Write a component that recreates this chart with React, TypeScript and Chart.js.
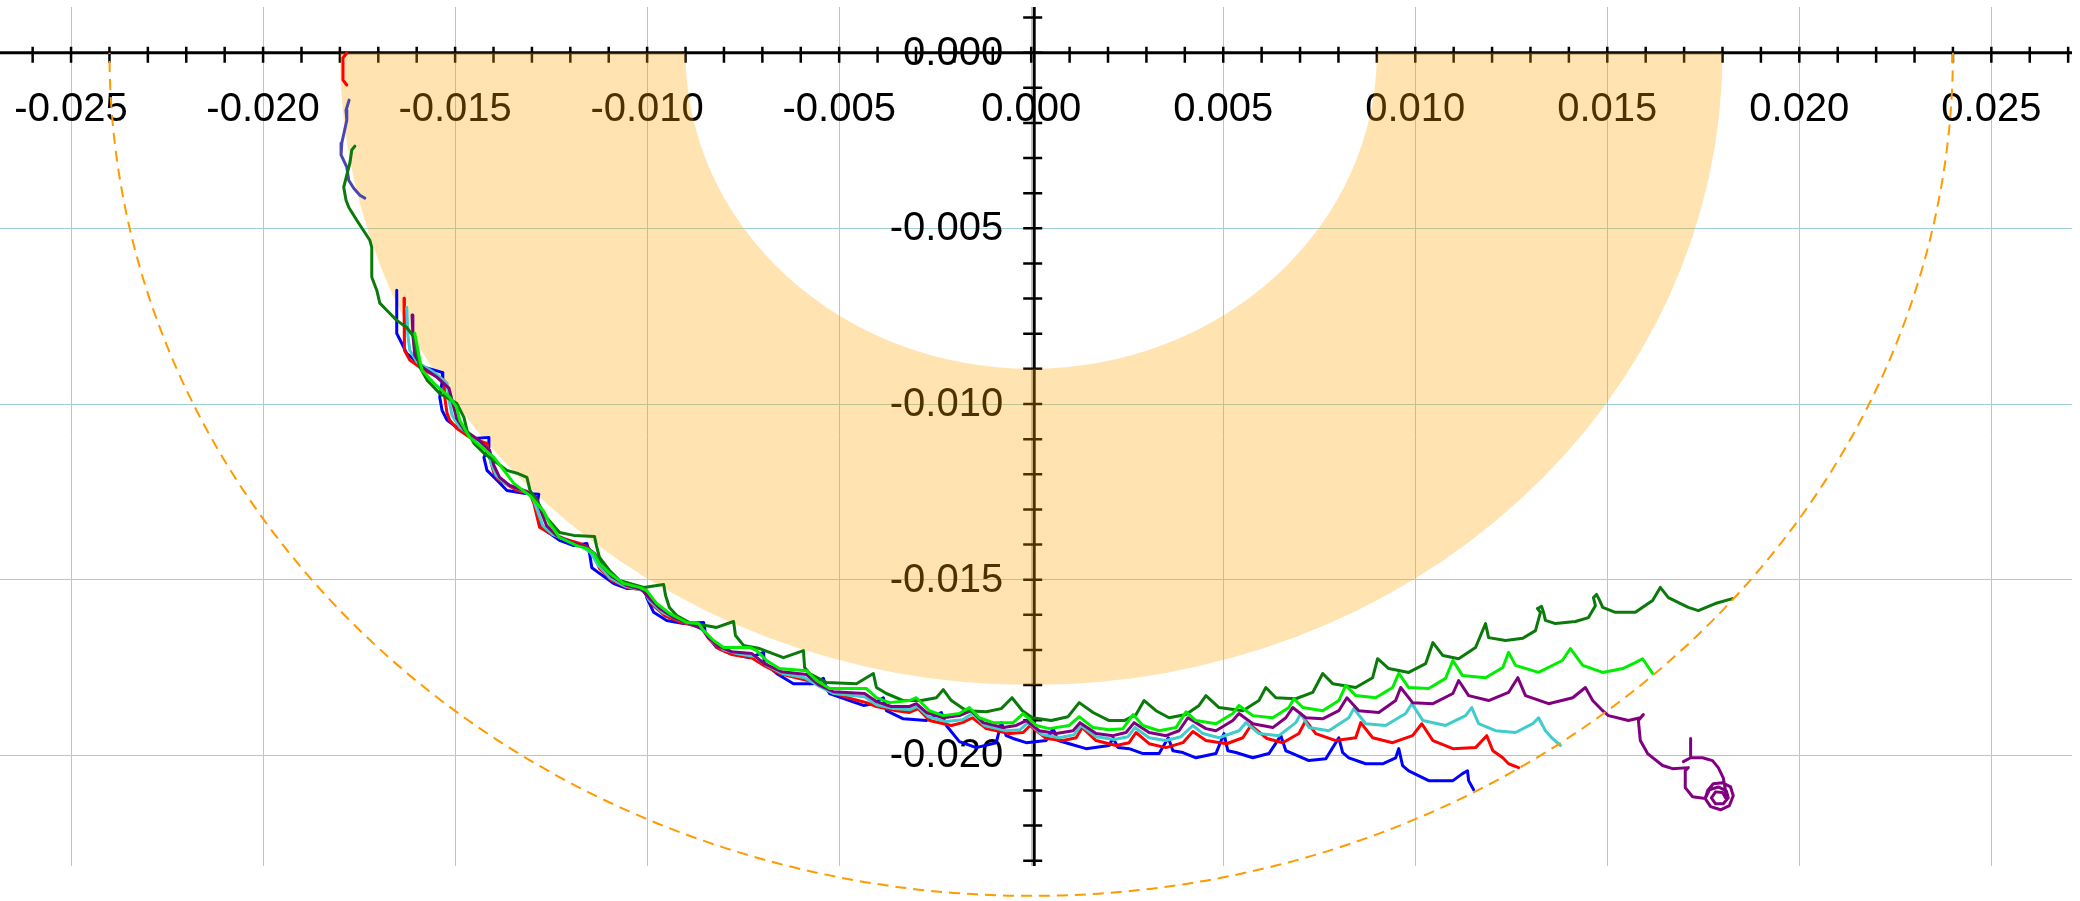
import React, { useEffect, useRef } from 'react';
import { Chart, registerables } from 'chart.js';

Chart.register(...registerables);

// ---- axis ranges & ticks ----
const X_MIN = -0.02685;
const X_MAX = 0.0271;
const Y_MIN = -0.02315;
const Y_MAX = 0.0013;
const xGridValues = [-0.025, -0.02, -0.015, -0.01, -0.005, 0, 0.005, 0.01, 0.015, 0.02, 0.025];
const yGridValues = [0, -0.005, -0.01, -0.015, -0.02];
const xTickLabels = ['-0.025', '-0.020', '-0.015', '-0.010', '-0.005', '0.000', '0.005', '0.010', '0.015', '0.020', '0.025'];
const yTickLabels = ['0.000', '-0.005', '-0.010', '-0.015', '-0.020'];
const MINOR_STEP = 0.001;

// ---- reference shapes (radii in data units) ----
const BAND_INNER = 0.009;
const BAND_OUTER = 0.018;
const LIMIT_RADIUS = 0.024;

// ---- trajectories: [x, y] in thousandths (x1e-3) ----
const darkGreenTrack: [number, number][] = [
  [-17.61, -2.66], [-17.69, -2.77], [-17.74, -3.14], [-17.82, -3.48], [-17.90, -3.83], [-17.84, -4.20], [-17.77, -4.40],
  [-17.56, -4.77], [-17.22, -5.34], [-17.17, -5.54], [-17.17, -6.39], [-17.04, -6.76], [-16.96, -7.13], [-16.78, -7.33],
  [-16.52, -7.62], [-16.26, -7.82], [-16.07, -8.10], [-15.92, -8.95], [-15.73, -9.32], [-15.40, -9.70], [-14.96, -9.98],
  [-14.77, -10.38], [-14.69, -10.75], [-14.51, -11.12], [-14.25, -11.40], [-13.65, -11.89], [-13.39, -11.97], [-13.13, -12.09],
  [-13.05, -12.46], [-12.80, -12.89], [-12.62, -13.23], [-12.28, -13.66], [-11.91, -13.74], [-11.37, -13.77], [-11.32, -14.03],
  [-11.24, -14.37], [-10.98, -14.74], [-10.72, -15.02], [-10.09, -15.22], [-9.57, -15.14], [-9.52, -15.45], [-9.42, -15.79],
  [-9.23, -16.02], [-8.90, -16.22], [-8.19, -16.36], [-7.75, -16.19], [-7.70, -16.59], [-7.49, -16.87], [-7.07, -16.96],
  [-6.45, -17.22], [-5.93, -17.02], [-5.90, -17.50], [-5.77, -17.67], [-5.33, -17.93], [-4.55, -17.96], [-4.11, -17.67],
  [-4.03, -18.07], [-3.77, -18.24], [-3.33, -18.44], [-2.86, -18.44], [-2.47, -18.36], [-2.29, -18.13], [-2.08, -18.44],
  [-1.69, -18.73], [-1.17, -18.76], [-0.78, -18.67], [-0.50, -18.36], [-0.23, -18.73], [0.03, -18.93], [0.52, -19.01],
  [0.96, -18.90], [1.25, -18.50], [1.61, -18.78], [2.03, -19.01], [2.42, -19.01], [2.73, -18.84], [2.94, -18.44],
  [3.25, -18.73], [3.59, -18.93], [4.03, -18.84], [4.37, -18.58], [4.55, -18.30], [4.89, -18.64], [5.51, -18.73],
  [5.93, -18.44], [6.11, -18.07], [6.37, -18.36], [6.89, -18.39], [7.33, -18.21], [7.59, -17.67], [7.85, -17.96],
  [8.45, -18.07], [8.89, -17.79], [9.02, -17.25], [9.31, -17.53], [9.83, -17.64], [10.27, -17.39], [10.46, -16.79],
  [10.72, -17.16], [11.13, -17.25], [11.57, -16.93], [11.83, -16.25], [11.91, -16.65], [12.35, -16.73], [12.80, -16.67],
  [13.13, -16.45], [13.26, -15.93], [13.18, -15.82], [13.29, -15.76], [13.34, -15.93], [13.39, -16.16], [13.65, -16.25],
  [14.17, -16.19], [14.51, -16.08], [14.69, -15.74], [14.64, -15.51], [14.72, -15.42], [14.80, -15.59], [14.88, -15.79],
  [15.21, -15.93], [15.73, -15.93], [16.18, -15.59], [16.38, -15.22], [16.59, -15.51], [17.11, -15.79], [17.37, -15.88],
  [17.81, -15.68], [18.26, -15.54],
];

const limeTrack: [number, number][] = [
  [-16.05, -7.99], [-15.99, -8.33], [-15.92, -8.75], [-15.86, -9.04], [-15.55, -9.41], [-15.14, -9.81], [-14.96, -10.09],
  [-14.88, -10.46], [-14.62, -10.95], [-14.31, -11.23], [-13.99, -11.52], [-13.73, -11.89], [-13.47, -12.26], [-13.06, -12.60],
  [-12.69, -13.06], [-12.54, -13.40], [-12.28, -13.80], [-11.83, -14.03], [-11.57, -14.11], [-11.39, -14.25], [-11.24, -14.54],
  [-10.98, -14.82], [-10.61, -15.11], [-10.20, -15.22], [-10.01, -15.31], [-9.75, -15.68], [-9.42, -15.96], [-8.97, -16.22],
  [-8.66, -16.25], [-8.53, -16.45], [-8.27, -16.73], [-8.01, -16.93], [-7.33, -16.93], [-7.15, -17.02], [-6.89, -17.30],
  [-6.56, -17.53], [-5.85, -17.59], [-5.59, -17.87], [-5.25, -18.10], [-4.29, -18.10], [-4.03, -18.36], [-3.69, -18.50],
  [-3.17, -18.44], [-2.99, -18.36], [-2.65, -18.73], [-2.29, -18.87], [-1.87, -18.81], [-1.61, -18.64], [-1.35, -18.93],
  [-0.99, -19.07], [-0.47, -19.07], [-0.21, -18.81], [0.13, -19.15], [0.47, -19.24], [0.99, -19.15], [1.25, -18.90],
  [1.61, -19.21], [2.03, -19.27], [2.39, -19.24], [2.65, -18.84], [2.91, -19.15], [3.33, -19.30], [3.77, -19.21],
  [4.03, -18.76], [4.29, -19.01], [4.81, -19.10], [5.25, -18.81], [5.41, -18.58], [5.77, -18.87], [6.29, -18.93],
  [6.71, -18.64], [6.84, -18.39], [7.07, -18.64], [7.59, -18.73], [8.01, -18.44], [8.19, -18.01], [8.45, -18.30],
  [8.97, -18.36], [9.41, -18.07], [9.57, -17.67], [9.83, -18.07], [10.35, -18.10], [10.79, -17.81], [10.98, -17.30],
  [11.23, -17.73], [11.83, -17.79], [12.28, -17.50], [12.43, -17.07], [12.61, -17.44], [13.21, -17.64], [13.83, -17.30],
  [14.04, -16.96], [14.36, -17.44], [14.88, -17.64], [15.40, -17.53], [15.73, -17.36], [15.92, -17.25], [16.18, -17.67],
];

const purpleTrack: [number, number][] = [
  [-16.12, -7.47], [-16.10, -8.04], [-16.05, -8.61], [-15.86, -8.95], [-15.47, -9.24], [-15.16, -9.55], [-15.06, -9.98],
  [-14.96, -10.41], [-14.75, -10.75], [-14.38, -11.03], [-14.10, -11.32], [-13.99, -11.75], [-13.84, -12.09], [-13.58, -12.32],
  [-13.13, -12.49], [-12.88, -12.66], [-12.75, -13.09], [-12.62, -13.46], [-12.36, -13.74], [-11.96, -13.94], [-11.57, -14.08],
  [-11.37, -14.25], [-11.18, -14.60], [-10.92, -14.91], [-10.53, -15.17], [-10.14, -15.28], [-9.96, -15.51], [-9.67, -15.82],
  [-9.31, -16.08], [-8.84, -16.28], [-8.58, -16.39], [-8.40, -16.65], [-8.14, -16.90], [-7.80, -17.05], [-7.28, -17.10],
  [-6.95, -17.39], [-6.50, -17.62], [-5.85, -17.70], [-5.54, -17.99], [-5.15, -18.19], [-4.34, -18.24], [-4.03, -18.47],
  [-3.64, -18.61], [-3.17, -18.61], [-2.99, -18.53], [-2.73, -18.78], [-2.29, -18.93], [-1.87, -18.87], [-1.56, -18.73],
  [-1.25, -19.07], [-0.73, -19.21], [-0.39, -19.15], [-0.13, -19.01], [0.21, -19.30], [0.65, -19.38], [1.09, -19.30],
  [1.27, -19.07], [1.69, -19.38], [2.13, -19.44], [2.47, -19.35], [2.68, -19.07], [3.07, -19.35], [3.51, -19.44],
  [3.85, -19.30], [4.08, -18.93], [4.55, -19.24], [4.81, -19.30], [5.25, -19.01], [5.41, -18.81], [5.77, -19.10],
  [6.29, -19.21], [6.63, -18.93], [6.81, -18.64], [7.15, -18.93], [7.59, -18.96], [8.01, -18.73], [8.22, -18.36],
  [8.53, -18.73], [9.05, -18.78], [9.49, -18.44], [9.62, -18.07], [9.93, -18.50], [10.46, -18.53], [10.98, -18.24],
  [11.13, -17.87], [11.39, -18.30], [11.91, -18.44], [12.43, -18.21], [12.67, -17.79], [12.87, -18.30], [13.47, -18.53],
  [14.10, -18.36], [14.43, -18.07], [14.62, -18.44], [14.88, -18.73], [15.03, -18.87], [15.55, -19.01], [15.86, -18.93],
  [15.94, -18.84], [15.81, -19.01], [15.86, -19.58], [16.05, -19.95], [16.44, -20.29], [16.70, -20.38], [17.11, -20.35],
  [17.03, -20.44], [17.03, -20.92], [17.22, -21.18], [17.55, -21.23], [17.61, -21.01], [17.76, -20.81], [18.00, -20.78],
  [18.21, -20.90], [18.28, -21.15], [18.18, -21.43], [17.95, -21.55], [17.69, -21.46], [17.55, -21.23], [17.66, -20.98],
  [17.89, -20.90], [18.10, -21.01], [18.15, -21.21], [18.02, -21.38], [17.82, -21.38], [17.71, -21.21], [17.82, -21.04],
  [18.00, -21.06], [18.08, -21.21], [18.08, -21.01], [18.02, -20.64], [17.89, -20.35], [17.74, -20.15], [17.48, -20.07],
  [17.17, -20.07], [16.98, -20.18], [17.17, -20.07], [17.17, -19.52],
];

const cyanTrack: [number, number][] = [
  [-16.26, -7.25], [-16.23, -8.04], [-16.18, -8.47], [-15.99, -8.81], [-15.55, -9.10], [-15.21, -9.41], [-15.16, -9.89],
  [-15.08, -10.32], [-14.88, -10.66], [-14.51, -10.95], [-14.17, -11.23], [-14.07, -11.66], [-13.93, -12.03], [-13.70, -12.26],
  [-13.26, -12.46], [-13.00, -12.60], [-12.88, -12.97], [-12.72, -13.46], [-12.46, -13.71], [-12.10, -13.88], [-11.70, -14.06],
  [-11.47, -14.23], [-11.29, -14.57], [-10.98, -14.94], [-10.56, -15.19], [-10.09, -15.31], [-9.94, -15.59], [-9.60, -15.93],
  [-9.21, -16.13], [-8.71, -16.33], [-8.50, -16.47], [-8.30, -16.76], [-8.01, -16.99], [-7.67, -17.10], [-7.20, -17.19],
  [-6.87, -17.45], [-6.48, -17.67], [-5.90, -17.79], [-5.51, -18.04], [-5.15, -18.24], [-4.34, -18.33], [-4.03, -18.56],
  [-3.59, -18.67], [-3.15, -18.70], [-2.96, -18.61], [-2.68, -18.90], [-2.21, -19.04], [-1.79, -18.99], [-1.53, -18.81],
  [-1.22, -19.15], [-0.65, -19.30], [-0.29, -19.27], [-0.08, -19.07], [0.29, -19.41], [0.73, -19.50], [1.12, -19.41],
  [1.30, -19.15], [1.69, -19.47], [2.16, -19.55], [2.52, -19.47], [2.70, -19.21], [3.07, -19.50], [3.51, -19.58],
  [3.90, -19.47], [4.21, -19.15], [4.47, -19.38], [4.89, -19.50], [5.41, -19.30], [5.59, -19.07], [5.93, -19.38],
  [6.45, -19.44], [6.89, -19.07], [7.02, -18.81], [7.23, -19.21], [7.75, -19.30], [8.27, -18.93], [8.40, -18.67],
  [8.71, -19.10], [9.23, -19.15], [9.75, -18.81], [9.91, -18.53], [10.20, -19.01], [10.79, -19.15], [11.31, -18.87],
  [11.47, -18.64], [11.65, -19.10], [12.09, -19.30], [12.61, -19.35], [13.06, -19.10], [13.21, -18.93], [13.39, -19.30],
  [13.57, -19.52], [13.78, -19.72],
];

const redStartTrack: [number, number][] = [
  [-17.82, -0.01], [-17.92, -0.15], [-17.92, -0.78], [-17.82, -0.92],
];

const redTrack: [number, number][] = [
  [-16.33, -6.99], [-16.33, -7.62], [-16.31, -8.47], [-16.18, -8.75], [-15.81, -9.04], [-15.29, -9.32], [-15.27, -9.81],
  [-15.21, -10.26], [-15.14, -10.46], [-14.96, -10.69], [-14.62, -10.95], [-14.17, -11.12], [-14.10, -11.52], [-13.99, -11.97],
  [-13.84, -12.17], [-13.39, -12.46], [-13.05, -12.54], [-12.95, -12.83], [-12.80, -13.51], [-12.54, -13.68], [-12.17, -13.83],
  [-11.76, -13.97], [-11.57, -14.06], [-11.39, -14.31], [-11.24, -14.68], [-10.92, -15.02], [-10.53, -15.22], [-10.07, -15.31],
  [-9.89, -15.68], [-9.55, -16.02], [-9.10, -16.22], [-8.58, -16.36], [-8.40, -16.67], [-8.14, -16.96], [-7.80, -17.13],
  [-7.28, -17.22], [-6.95, -17.45], [-6.56, -17.67], [-5.93, -17.84], [-5.46, -17.96], [-5.20, -18.21], [-4.68, -18.39],
  [-4.29, -18.50], [-4.03, -18.61], [-3.51, -18.73], [-3.17, -18.78], [-2.94, -18.67], [-2.65, -19.01], [-2.08, -19.15],
  [-1.79, -19.07], [-1.53, -18.93], [-1.17, -19.24], [-0.57, -19.38], [-0.21, -19.35], [-0.03, -19.15], [0.39, -19.52],
  [0.83, -19.58], [1.17, -19.50], [1.33, -19.21], [1.69, -19.58], [2.21, -19.72], [2.55, -19.64], [2.73, -19.35],
  [3.07, -19.67], [3.51, -19.78], [3.95, -19.64], [4.21, -19.32], [4.55, -19.58], [5.09, -19.67], [5.51, -19.50],
  [5.72, -19.15], [6.14, -19.52], [6.55, -19.64], [6.97, -19.38], [7.15, -19.01], [7.41, -19.38], [7.93, -19.58],
  [8.45, -19.50], [8.58, -19.07], [8.89, -19.50], [9.41, -19.64], [9.93, -19.44], [10.17, -19.10], [10.46, -19.58],
  [10.98, -19.81], [11.57, -19.78], [11.86, -19.44], [12.02, -19.87], [12.28, -20.07], [12.43, -20.24], [12.69, -20.35],
];

const navyStartTrack: [number, number][] = [
  [-17.76, -1.35], [-17.84, -1.64], [-17.82, -1.92], [-17.95, -2.57], [-17.97, -2.91], [-17.82, -3.26], [-17.77, -3.63],
  [-17.64, -3.86], [-17.48, -4.06], [-17.35, -4.14],
];

const blueTrack: [number, number][] = [
  [-16.52, -6.76], [-16.52, -7.42], [-16.52, -7.99], [-16.39, -8.27], [-16.26, -8.56], [-15.99, -8.81], [-15.81, -8.95],
  [-15.34, -9.10], [-15.32, -9.24], [-15.40, -9.81], [-15.34, -10.18], [-15.21, -10.46], [-14.96, -10.66], [-14.51, -10.98],
  [-14.12, -10.95], [-14.12, -11.23], [-14.25, -11.52], [-14.17, -11.89], [-13.91, -12.17], [-13.65, -12.46], [-13.21, -12.54],
  [-12.82, -12.57], [-12.88, -12.94], [-12.75, -13.51], [-12.54, -13.68], [-12.28, -13.88], [-11.91, -14.03], [-11.57, -13.97],
  [-11.50, -14.25], [-11.44, -14.66], [-11.24, -14.82], [-10.87, -15.11], [-10.53, -15.25], [-10.07, -15.22], [-10.01, -15.51],
  [-9.83, -15.93], [-9.49, -16.16], [-9.05, -16.25], [-8.53, -16.22], [-8.48, -16.53], [-8.19, -16.93], [-7.85, -17.10],
  [-7.33, -17.22], [-6.97, -17.07], [-6.95, -17.36], [-6.63, -17.67], [-6.19, -17.96], [-5.67, -17.96], [-5.41, -17.81],
  [-5.33, -18.10], [-5.25, -18.24], [-4.73, -18.44], [-4.37, -18.58], [-4.11, -18.53], [-3.85, -18.36], [-3.77, -18.73],
  [-3.33, -18.96], [-2.73, -19.01], [-2.34, -18.78], [-2.21, -19.15], [-1.87, -19.61], [-1.43, -19.78], [-0.91, -19.64],
  [-0.78, -19.07], [-0.65, -19.44], [-0.47, -19.52], [-0.13, -19.64], [0.39, -19.58], [0.57, -19.24], [0.70, -19.58],
  [0.99, -19.67], [1.43, -19.81], [2.03, -19.72], [2.13, -19.50], [2.26, -19.78], [2.55, -19.81], [2.91, -19.95],
  [3.33, -19.95], [3.57, -19.50], [3.69, -19.87], [3.95, -19.92], [4.29, -20.07], [4.81, -19.95], [5.02, -19.38],
  [5.12, -19.87], [5.33, -19.92], [5.77, -20.07], [6.19, -19.95], [6.50, -19.44], [6.63, -19.87], [6.81, -19.95],
  [7.23, -20.15], [7.67, -20.10], [8.01, -19.50], [8.11, -19.92], [8.27, -20.07], [8.71, -20.24], [9.15, -20.24],
  [9.49, -20.07], [9.57, -19.81], [9.67, -20.29], [9.83, -20.44], [10.35, -20.72], [10.98, -20.72], [11.23, -20.52],
  [11.36, -20.44], [11.39, -20.72], [11.52, -20.98],
];

const toPoints = (track: [number, number][]) => track.map(([x, y]) => ({ x: x / 1000, y: y / 1000 }));

const seriesList = [
  { label: 'lime', track: limeTrack, color: '#00ee00' },
  { label: 'darkgreen', track: darkGreenTrack, color: '#0a7a0a' },
  { label: 'purple', track: purpleTrack, color: '#800080' },
  { label: 'cyan', track: cyanTrack, color: '#40cccc' },
  { label: 'red', track: redTrack, color: '#ff0000' },
  { label: 'red-start', track: redStartTrack, color: '#ff0000' },
  { label: 'blue', track: blueTrack, color: '#0000ff' },
  { label: 'navy-start', track: navyStartTrack, color: '#4848b0' },
];

const GRID_COLOR = 'rgb(160,208,208)';
const FONT = '40px "Liberation Sans", Arial, sans-serif';

const overlayPlugin = {
  id: 'axesOverlay',
  beforeDatasetsDraw(chart: any) {
    const { ctx, chartArea } = chart;
    const xs = chart.scales.x;
    const ys = chart.scales.y;
    const x0 = xs.getPixelForValue(0);
    const y0 = ys.getPixelForValue(0);
    const axisX = x0 + 3;
    ctx.save();
    ctx.strokeStyle = '#000';
    ctx.lineWidth = 3;
    ctx.beginPath();
    ctx.moveTo(chartArea.left, y0);
    ctx.lineTo(chartArea.right, y0);
    ctx.stroke();
    ctx.beginPath();
    ctx.moveTo(axisX, chartArea.top);
    ctx.lineTo(axisX, chartArea.bottom);
    ctx.stroke();

    ctx.lineWidth = 2.5;
    ctx.beginPath();
    for (let i = Math.ceil(X_MIN / MINOR_STEP); i * MINOR_STEP <= X_MAX + 1e-9; i++) {
      const px = xs.getPixelForValue(i * MINOR_STEP);
      ctx.moveTo(px, y0 - 6);
      ctx.lineTo(px, y0 + 10);
    }
    for (let i = Math.ceil(Y_MIN / MINOR_STEP); i * MINOR_STEP <= Y_MAX + 1e-9; i++) {
      const py = ys.getPixelForValue(i * MINOR_STEP);
      ctx.moveTo(axisX - 11, py);
      ctx.lineTo(axisX + 8, py);
    }
    ctx.stroke();

    ctx.font = FONT;
    ctx.fillStyle = '#000';
    ctx.textAlign = 'center';
    ctx.textBaseline = 'middle';
    xGridValues.forEach((v, i) => {
      ctx.fillText(xTickLabels[i], xs.getPixelForValue(v), y0 + 57);
    });
    ctx.textAlign = 'right';
    yGridValues.forEach((v, i) => {
      ctx.fillText(yTickLabels[i], x0 - 28, ys.getPixelForValue(v) + 1);
    });

    // annulus band
    const rx = (r: number) => xs.getPixelForValue(r) - x0;
    const ry = (r: number) => ys.getPixelForValue(-r) - y0;
    ctx.beginPath();
    ctx.ellipse(x0, y0, rx(BAND_OUTER), ry(BAND_OUTER), 0, 0, Math.PI, false);
    ctx.ellipse(x0, y0, rx(BAND_INNER), ry(BAND_INNER), 0, Math.PI, 0, true);
    ctx.closePath();
    ctx.fillStyle = 'rgba(255,165,0,0.3)';
    ctx.fill();
    ctx.restore();
  },
  afterDatasetsDraw(chart: any) {
    const { ctx } = chart;
    const xs = chart.scales.x;
    const ys = chart.scales.y;
    const x0 = xs.getPixelForValue(0);
    const y0 = ys.getPixelForValue(0);
    ctx.save();
    ctx.strokeStyle = '#ff9a00';
    ctx.lineWidth = 2;
    ctx.setLineDash([11, 7]);
    ctx.beginPath();
    ctx.ellipse(
      x0,
      y0,
      xs.getPixelForValue(LIMIT_RADIUS) - x0,
      ys.getPixelForValue(-LIMIT_RADIUS) - y0,
      0,
      0,
      Math.PI,
      false
    );
    ctx.stroke();
    ctx.restore();
  },
};

export default function App() {
  const canvasRef = useRef<HTMLCanvasElement>(null);

  useEffect(() => {
    if (!canvasRef.current) return;
    const chart = new Chart(canvasRef.current, {
      type: 'scatter',
      data: {
        datasets: seriesList.map((s) => ({
          label: s.label,
          data: toPoints(s.track),
          showLine: true,
          borderColor: s.color,
          backgroundColor: s.color,
          borderWidth: 3,
          pointRadius: 0,
          pointHoverRadius: 0,
          tension: 0,
          borderJoinStyle: 'round' as const,
          borderCapStyle: 'round' as const,
        })),
      },
      options: {
        animation: false,
        responsive: false,
        maintainAspectRatio: false,
        devicePixelRatio: 1,
        layout: { padding: { left: 0, right: 8, top: 7, bottom: 35 } },
        plugins: {
          legend: { display: false },
          tooltip: { enabled: false },
          title: { display: false },
        },
        events: [],
        scales: {
          x: {
            type: 'linear',
            min: X_MIN,
            max: X_MAX,
            position: 'bottom',
            ticks: { display: false },
            grid: { color: GRID_COLOR, lineWidth: 1, drawTicks: false },
            border: { display: false },
            afterBuildTicks: (scale: any) => {
              scale.ticks = xGridValues.map((v) => ({ value: v }));
            },
          },
          y: {
            type: 'linear',
            min: Y_MIN,
            max: Y_MAX,
            position: 'left',
            ticks: { display: false },
            grid: { color: GRID_COLOR, lineWidth: 1, drawTicks: false },
            border: { display: false },
            afterBuildTicks: (scale: any) => {
              scale.ticks = yGridValues.map((v) => ({ value: v }));
            },
          },
        },
      },
      plugins: [overlayPlugin],
    });
    return () => chart.destroy();
  }, []);

  return (
    <div style={{ position: 'fixed', left: 0, top: 0, width: 2080, height: 901, background: '#ffffff' }}>
      <canvas ref={canvasRef} width={2080} height={901} style={{ width: 2080, height: 901, display: 'block' }} />
    </div>
  );
}
